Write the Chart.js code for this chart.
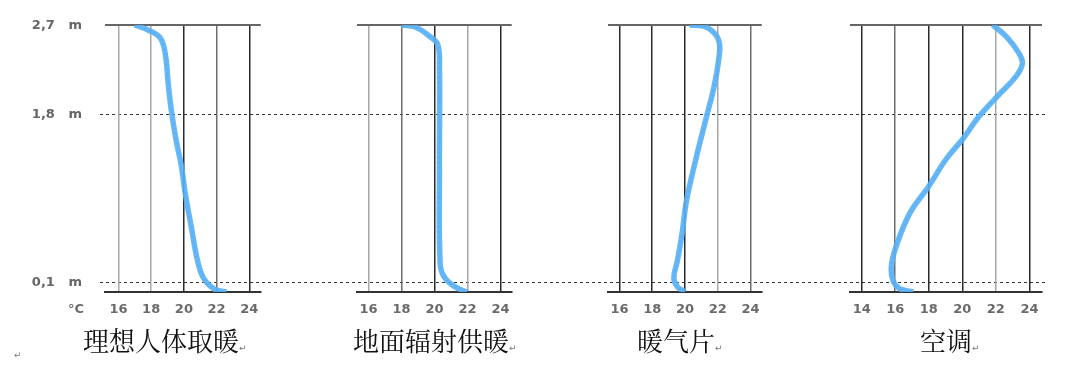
<!DOCTYPE html>
<html>
<head>
<meta charset="utf-8">
<script src="https://cdn.jsdelivr.net/npm/chart.js@4.4.1/dist/chart.umd.min.js"></script>
<style>
  body { margin: 0; background: #fff; width: 1080px; height: 374px; overflow: hidden; }
  #wrap { position: relative; width: 1080px; height: 374px; }
  canvas { position: absolute; top: 0; }
  .title { position: absolute; top: 326px; font-family: "Noto Serif CJK SC", "Noto Sans CJK SC", sans-serif; font-size: 26px; line-height: 28px; color: #111; white-space: nowrap; }
  .mark { font-family: "DejaVu Sans", sans-serif; font-size: 9px; color: #777; }
  .unit { position: absolute; left: 68px; top: 301px; font-family: "DejaVu Sans", sans-serif; font-weight: bold; font-size: 13px; color: #6a6a6a; }
</style>
</head>
<body>
<div id="wrap">
  <canvas id="bg" width="1046" height="374" style="left:0px"></canvas>
  <canvas id="p1" width="168" height="374" style="left:100px"></canvas>
  <canvas id="p2" width="169" height="374" style="left:350px"></canvas>
  <canvas id="p3" width="168" height="374" style="left:601px"></canvas>
  <canvas id="p4" width="205" height="374" style="left:843px"></canvas>
  <span class="unit">°C</span>
  <span class="title" style="left:83px">理想人体取暖<span class="mark">↵</span></span>
  <span class="title" style="left:353px">地面辐射供暖<span class="mark">↵</span></span>
  <span class="title" style="left:637px">暖气片<span class="mark">↵</span></span>
  <span class="title" style="left:920px">空调<span class="mark">↵</span></span>
  <span class="mark" style="position:absolute;left:14px;top:350px">↵</span>
</div>
<script>
// data
const yTicks = [0.1, 1.8, 2.7];
const xTicksA = [16, 18, 20, 22, 24];
const xTicksB = [14, 16, 18, 20, 22, 24];
const titles = ['理想人体取暖', '地面辐射供暖', '暖气片', '空调'];

// 理想人体取暖
const heights1 = [2.7, 2.65, 2.57, 2.41, 2.11, 1.84, 1.54, 1.27, 1.0, 0.66, 0.32, 0.14, 0.03, 0];
const temps1 = [17.0, 17.8, 18.55, 18.86, 19.04, 19.23, 19.52, 19.85, 20.08, 20.45, 20.83, 21.2, 21.86, 22.6];
// 地面辐射供暖
const heights2 = [2.7, 2.68, 2.58, 2.5, 2.28, 1.27, 0.29, 0.155, 0.054, 0];
const temps2 = [18.0, 18.83, 19.75, 20.2, 20.3, 20.3, 20.34, 20.58, 21.23, 21.97];
// 暖气片
const heights3 = [2.7, 2.69, 2.62, 2.52, 2.35, 2.08, 1.77, 1.34, 0.93, 0.59, 0.32, 0.14, 0.054, 0];
const temps3 = [20.28, 21.12, 21.78, 22.1, 22.06, 21.78, 21.31, 20.66, 20.1, 19.82, 19.54, 19.32, 19.54, 20.0];
// 空调
const heights4 = [2.7, 2.58, 2.41, 2.31, 2.18, 2.01, 1.77, 1.55, 1.34, 1.07, 0.8, 0.46, 0.26, 0.12, 0.037, 0];
const temps4 = [21.81, 22.64, 23.39, 23.58, 23.2, 22.27, 20.97, 20.04, 19.02, 18.0, 16.88, 16.05, 15.77, 15.86, 16.23, 17.07];

// styling of the scanned grid lines (darker / lighter verticals)
const DARK = '#2b2b2b', MID = '#6e6e6e', LIGHT = '#a8a8a8';
const gridShades = [
    { 16: LIGHT, 18: LIGHT, 20: DARK, 22: MID, 24: DARK },
    { 16: LIGHT, 18: MID, 20: DARK, 22: LIGHT, 24: DARK },
    { 16: DARK, 18: DARK, 20: DARK, 22: LIGHT, 24: MID },
    { 14: DARK, 16: MID, 18: DARK, 20: DARK, 22: LIGHT, 24: DARK }
];

const tickFont = { family: 'DejaVu Sans', weight: 'bold', size: 13 };

function toPoints(temps, heights) {
    return temps.map((t, i) => ({ x: t, y: heights[i] }));
}

// background: dotted height lines spanning all panels + height labels
new Chart(document.getElementById('bg'), {
    type: 'scatter',
    data: { datasets: [] },
    options: {
        responsive: false,
        animation: false,
        devicePixelRatio: 1,
        layout: { padding: { top: 25, bottom: 82, left: 0, right: 0 } },
        plugins: { legend: { display: false }, tooltip: { enabled: false } },
        scales: {
            x: { display: false, min: 0, max: 1 },
            y: {
                min: 0, max: 2.7,
                afterBuildTicks: s => { s.ticks = yTicks.map(v => ({ value: v })); },
                afterFit: s => { s.width = 100; },
                border: { display: false, dash: [3, 3] },
                grid: {
                    drawTicks: false,
                    color: c => c.tick.value === 2.7 ? 'transparent' : '#333',
                    lineWidth: 1
                },
                ticks: {
                    padding: 18,
                    color: '#666',
                    font: { family: 'DejaVu Sans', weight: 'bold', size: 13 },
                    callback: v => v.toFixed(1).replace('.', ',') + '   m'
                }
            }
        }
    }
});

function makePanel(id, temps, heights, xTicks, xMin, xMax, shades) {
    const pts = toPoints(temps, heights);
    new Chart(document.getElementById(id), {
        type: 'scatter',
        data: {
            datasets: [{
                data: pts,
                showLine: true,
                borderColor: 'rgba(85,175,245,0.9)',
                borderWidth: 5.5,
                pointRadius: 0,
                tension: 0.4
            }, {
                data: pts,
                showLine: true,
                borderColor: 'rgba(40,90,210,0.6)',
                borderWidth: 1.5,
                borderDash: [2, 3],
                pointRadius: 0,
                tension: 0.4
            }]
        },
        options: {
            responsive: false,
            animation: false,
            devicePixelRatio: 1,
            layout: { padding: { top: 25, bottom: 0, left: 0, right: 0 } },
            plugins: { legend: { display: false }, tooltip: { enabled: false } },
            scales: {
                x: {
                    type: 'linear',
                    min: xMin, max: xMax,
                    afterBuildTicks: s => { s.ticks = xTicks.map(v => ({ value: v })); },
                    afterFit: s => { s.height = 82; },
                    border: { display: true, color: '#333', width: 2 },
                    grid: {
                        drawTicks: false,
                        color: c => shades[c.tick.value] || MID,
                        lineWidth: 1.5
                    },
                    ticks: { padding: 10, color: '#6a6a6a', font: tickFont }
                },
                y: {
                    min: 0, max: 2.7,
                    afterBuildTicks: s => { s.ticks = yTicks.map(v => ({ value: v })); },
                    afterFit: s => { s.width = 0; },
                    border: { display: false },
                    grid: {
                        drawTicks: false,
                        color: c => c.tick.value === 2.7 ? '#666' : 'transparent',
                        lineWidth: 2
                    },
                    ticks: { display: false }
                }
            }
        }
    });
}

makePanel('p1', temps1, heights1, xTicksA, 15.2, 24.7, gridShades[0]);
makePanel('p2', temps2, heights2, xTicksA, 15.32, 24.68, gridShades[1]);
makePanel('p3', temps3, heights3, xTicksA, 15.3, 24.69, gridShades[2]);
makePanel('p4', temps4, heights4, xTicksB, 13.31, 24.75, gridShades[3]);
</script>
</body>
</html>
